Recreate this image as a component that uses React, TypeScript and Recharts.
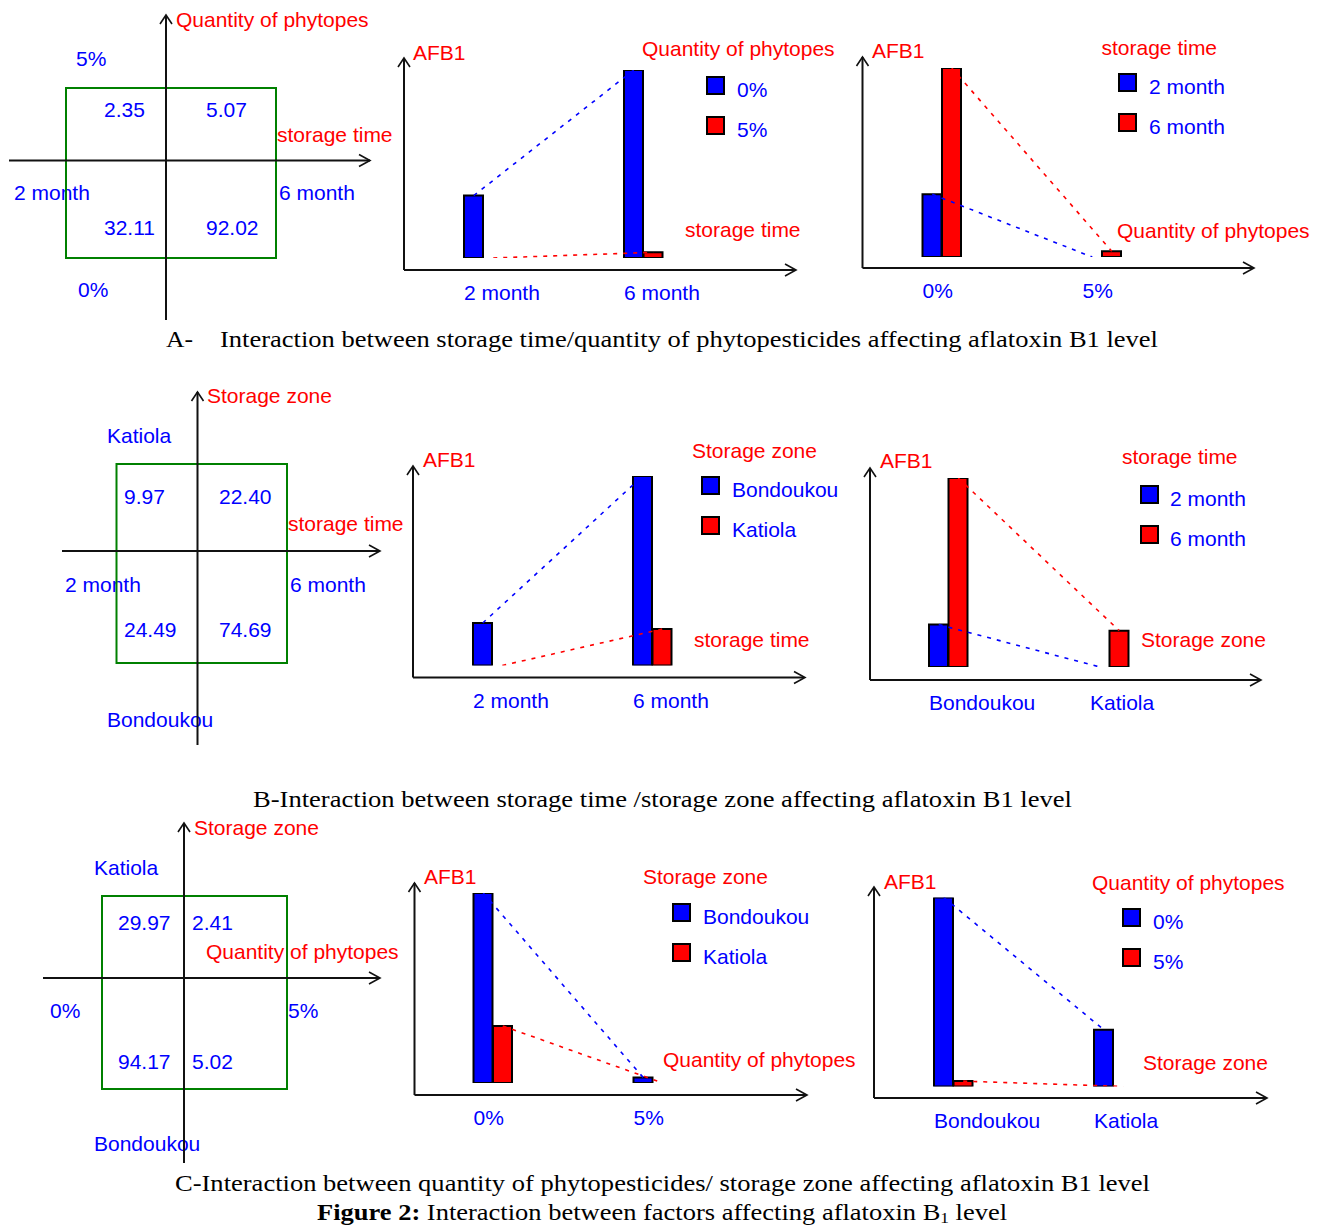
import React from 'react';
import {
  ComposedChart,
  ScatterChart,
  Scatter,
  Bar,
  Line,
  XAxis,
  YAxis,
  Cell,
  Customized,
} from 'recharts';

// ---------------- data ----------------
const storageTimes = ['2 month', '6 month'];
const phytoQuantities = ['0%', '5%'];
const storageZones = ['Bondoukou', 'Katiola'];

// A: storage time x quantity of phytopesticides (AFB1), indexed by storage time
const aPhyto0 = [32.11, 92.02];
const aPhyto5 = [2.35, 5.07];
// B: storage time x storage zone, indexed by storage time
const bBondoukou = [24.49, 74.69];
const bKatiola = [9.97, 22.4];
// C: quantity of phytopesticides x storage zone, indexed by quantity
const cBondoukou = [94.17, 5.02];
const cKatiola = [29.97, 2.41];

const titlePhyto = 'Quantity of phytopes';
const titleTime = 'storage time';
const titleZone = 'Storage zone';
const yTitle = 'AFB1';

const captionA1 = 'A-';
const captionA2 = 'Interaction between storage time/quantity of phytopesticides affecting aflatoxin B1 level';
const captionB = 'B-Interaction between storage time /storage zone affecting aflatoxin B1 level';
const captionC = 'C-Interaction between quantity of phytopesticides/ storage zone affecting aflatoxin B1 level';

// ---------------- styles ----------------
const PAGE_W = 1324;
const PAGE_H = 1227;
const BLUE = '#0000ff';
const RED = '#ff0000';
const GREEN = '#008000';
const AXIS = '#111111';
const SERIES_COLORS = [BLUE, RED];
const SANS = '"Liberation Sans", Arial, sans-serif';
const SERIF = '"Liberation Serif", "Times New Roman", serif';
const FS = 21;
const BAR_STEP = 19.5;

type SeriesDef = { name: string; values: number[] };

const transpose = (a: number[], b: number[]) => [
  [a[0], b[0]],
  [a[1], b[1]],
];

const UpArrow = ({ x, y }: { x: number; y: number }) => (
  <polyline points={`${x - 6},${y + 9} ${x},${y} ${x + 6},${y + 9}`} fill="none" stroke={AXIS} strokeWidth={1.6} />
);
const RightArrow = ({ x, y }: { x: number; y: number }) => (
  <polyline points={`${x - 11},${y - 6} ${x},${y} ${x - 11},${y + 6}`} fill="none" stroke={AXIS} strokeWidth={1.6} />
);

const T = (p: { x: number; y: number; color: string; children: React.ReactNode }) => (
  <text x={p.x} y={p.y} fill={p.color} fontSize={FS} fontFamily={SANS}>
    {p.children}
  </text>
);

// ---------------- bar panels ----------------
type BarLayout = {
  l: number; t: number; r: number; b: number;
  padTop: number; padBottom: number;
  c0: number; step: number;
  afb: [number, number];
  legendTitle: [number, number];
  box: [number, number];
  textX: number;
  xTitle: [number, number];
};

function BarOverlay({ L, series, legendTitle, xTitle }: { L: BarLayout; series: SeriesDef[]; legendTitle: string; xTitle: string }) {
  return (
    <g>
      <line x1={L.l} y1={L.t} x2={L.l} y2={L.b} stroke={AXIS} strokeWidth={2} />
      <UpArrow x={L.l} y={L.t} />
      <RightArrow x={L.r + 1} y={L.b} />
      <T x={L.afb[0]} y={L.afb[1]} color={RED}>{yTitle}</T>
      <T x={L.legendTitle[0]} y={L.legendTitle[1]} color={RED}>{legendTitle}</T>
      {series.map((s, k) => (
        <g key={k}>
          <rect x={L.box[0] + 1} y={L.box[1] + 1 + k * 40} width={17} height={17} fill={SERIES_COLORS[k]} stroke="#000" strokeWidth={2} />
          <T x={L.textX} y={L.box[1] + 20.5 + k * 40} color={BLUE}>{s.name}</T>
        </g>
      ))}
      <T x={L.xTitle[0]} y={L.xTitle[1]} color={RED}>{xTitle}</T>
    </g>
  );
}

function BarPanel({ categories, series, legendTitle, xTitle, L }: { categories: string[]; series: SeriesDef[]; legendTitle: string; xTitle: string; L: BarLayout }) {
  const delta = BAR_STEP / 2 / L.step;
  const rows: any[] = [];
  categories.forEach((c, i) => {
    series.forEach((s, k) => {
      const row: any = { cat: c, k, pos: i + (k === 0 ? -delta : delta), v: s.values[i] };
      row['s' + k] = s.values[i];
      rows.push(row);
    });
  });
  const all = series.flatMap((s) => s.values);
  const yMin = Math.min(...all);
  const yMax = Math.max(...all);
  const lo = (L.l - L.c0) / L.step;
  const hi = (L.r - L.c0) / L.step;
  const tick = (p: any) => (
    <text x={p.x - BAR_STEP} y={L.b + 30} fill={BLUE} fontSize={FS} fontFamily={SANS}>
      {categories[Math.round(p.payload.value)]}
    </text>
  );
  return (
    <div style={{ position: 'absolute', left: 0, top: 0, width: PAGE_W, height: PAGE_H }}>
      <ComposedChart
        width={PAGE_W}
        height={PAGE_H}
        data={rows}
        margin={{ top: L.t, left: L.l, right: PAGE_W - L.r, bottom: PAGE_H - L.b - 40 }}
        barGap={0}
        barCategoryGap={0}
      >
        <XAxis
          type="number"
          dataKey="pos"
          domain={[lo, hi]}
          allowDataOverflow
          ticks={categories.map((_, i) => i)}
          interval={0}
          tick={tick}
          tickLine={false}
          axisLine={{ stroke: AXIS, strokeWidth: 2 }}
          height={40}
        />
        <YAxis
          type="number"
          domain={[yMin, yMax]}
          allowDataOverflow
          width={0}
          tick={false}
          tickLine={false}
          axisLine={false}
          padding={{ top: L.padTop, bottom: L.padBottom }}
        />
        <Bar dataKey="v" barSize={19} stroke="#000" strokeWidth={2} isAnimationActive={false}>
          {rows.map((r, i) => (
            <Cell key={i} fill={SERIES_COLORS[r.k]} />
          ))}
        </Bar>
        {series.map((s, k) => (
          <Line
            key={s.name}
            type="linear"
            dataKey={'s' + k}
            stroke={SERIES_COLORS[k]}
            strokeWidth={1.6}
            strokeDasharray="4 6"
            dot={false}
            activeDot={false}
            connectNulls
            isAnimationActive={false}
          />
        ))}
        <Customized component={<BarOverlay L={L} series={series} legendTitle={legendTitle} xTitle={xTitle} />} />
      </ComposedChart>
    </div>
  );
}

// ---------------- quadrant panels ----------------
type QuadLayout = {
  vx: number; vTop: number; vBottom: number;
  hy: number; hLeft: number; hRight: number;
  box: [number, number, number, number];
  colX: [number, number];
  rowY: [number, number];
  labels: { text: string; x: number; y: number; color: string }[];
};

function QuadOverlay({ Q }: { Q: QuadLayout }) {
  const [x1, y1, x2, y2] = Q.box;
  return (
    <g>
      {Q.labels.map((lb, i) => (
        <T key={i} x={lb.x} y={lb.y} color={lb.color}>{lb.text}</T>
      ))}
      <rect x={x1} y={y1} width={x2 - x1} height={y2 - y1} fill="none" stroke={GREEN} strokeWidth={2} />
      <line x1={Q.vx} y1={Q.vTop} x2={Q.vx} y2={Q.vBottom} stroke={AXIS} strokeWidth={2} />
      <line x1={Q.hLeft} y1={Q.hy} x2={Q.hRight} y2={Q.hy} stroke={AXIS} strokeWidth={2} />
      <UpArrow x={Q.vx} y={Q.vTop} />
      <RightArrow x={Q.hRight} y={Q.hy} />
    </g>
  );
}

const ValueText = (p: any) => (
  <text x={p.cx} y={p.cy} fill={BLUE} fontSize={FS} fontFamily={SANS}>
    {Number(p.payload.v).toFixed(2)}
  </text>
);

function QuadPanel({ cols, rows, values, Q }: { cols: string[]; rows: string[]; values: number[][]; Q: QuadLayout }) {
  const cells = rows.flatMap((r, ri) => cols.map((c, ci) => ({ col: c, row: r, v: values[ri][ci] })));
  return (
    <div style={{ position: 'absolute', left: 0, top: 0 }}>
      <ScatterChart
        width={PAGE_W}
        height={PAGE_H}
        margin={{ left: Q.colX[0], right: PAGE_W - Q.colX[1], top: Q.rowY[0], bottom: PAGE_H - Q.rowY[1] }}
      >
        <XAxis type="category" dataKey="col" scale="point" allowDuplicatedCategory={false} hide />
        <YAxis type="category" dataKey="row" scale="point" allowDuplicatedCategory={false} reversed hide />
        <Scatter data={cells} shape={ValueText} isAnimationActive={false} />
        <Customized component={<QuadOverlay Q={Q} />} />
      </ScatterChart>
    </div>
  );
}

// ---------------- layouts ----------------
const QA: QuadLayout = {
  vx: 166, vTop: 15, vBottom: 320, hy: 160.5, hLeft: 9, hRight: 370,
  box: [66, 88, 276, 258], colX: [104, 206], rowY: [117, 235],
  labels: [
    { text: titlePhyto, x: 176, y: 27, color: RED },
    { text: phytoQuantities[1], x: 76, y: 66, color: BLUE },
    { text: titleTime, x: 277, y: 142, color: RED },
    { text: storageTimes[0], x: 14, y: 200, color: BLUE },
    { text: storageTimes[1], x: 279, y: 200, color: BLUE },
    { text: phytoQuantities[0], x: 78, y: 297, color: BLUE },
  ],
};
const QB: QuadLayout = {
  vx: 197.5, vTop: 392, vBottom: 745, hy: 551, hLeft: 62, hRight: 380,
  box: [116.5, 464, 287, 663], colX: [124, 219], rowY: [504, 637],
  labels: [
    { text: titleZone, x: 207, y: 403, color: RED },
    { text: storageZones[1], x: 107, y: 443, color: BLUE },
    { text: titleTime, x: 288, y: 531, color: RED },
    { text: storageTimes[0], x: 65, y: 592, color: BLUE },
    { text: storageTimes[1], x: 290, y: 592, color: BLUE },
    { text: storageZones[0], x: 107, y: 727, color: BLUE },
  ],
};
const QC: QuadLayout = {
  vx: 184, vTop: 823, vBottom: 1163, hy: 978, hLeft: 43, hRight: 380,
  box: [102, 896, 287, 1089], colX: [118, 192], rowY: [930, 1069],
  labels: [
    { text: titleZone, x: 194, y: 835, color: RED },
    { text: storageZones[1], x: 94, y: 875, color: BLUE },
    { text: titlePhyto, x: 206, y: 959, color: RED },
    { text: phytoQuantities[0], x: 50, y: 1018, color: BLUE },
    { text: phytoQuantities[1], x: 288, y: 1018, color: BLUE },
    { text: storageZones[0], x: 94, y: 1151, color: BLUE },
  ],
};

const LA1: BarLayout = { l: 404, t: 58, r: 795, b: 270, padTop: 12, padBottom: 12, c0: 483.5, step: 160, afb: [413, 60], legendTitle: [642, 56], box: [706, 76], textX: 737, xTitle: [685, 237] };
const LA2: BarLayout = { l: 862.5, t: 57, r: 1253, b: 268, padTop: 11, padBottom: 11, c0: 942, step: 160, afb: [872, 58], legendTitle: [1101.5, 55], box: [1118, 73], textX: 1149, xTitle: [1117, 238] };
const LB1: BarLayout = { l: 413, t: 466, r: 804, b: 677.5, padTop: 10, padBottom: 12, c0: 492.5, step: 160, afb: [423, 467], legendTitle: [692, 458], box: [701, 476], textX: 732, xTitle: [694, 647] };
const LB2: BarLayout = { l: 870, t: 468, r: 1260, b: 680, padTop: 10, padBottom: 13, c0: 948.5, step: 161, afb: [880, 468], legendTitle: [1122, 464], box: [1140, 485], textX: 1170, xTitle: [1141, 647] };
const LC1: BarLayout = { l: 414.5, t: 883, r: 806, b: 1095, padTop: 10, padBottom: 12, c0: 493, step: 160, afb: [424, 884], legendTitle: [643, 884], box: [672, 903], textX: 703, xTitle: [663, 1067] };
const LC2: BarLayout = { l: 874, t: 887, r: 1266, b: 1098, padTop: 10.5, padBottom: 11.5, c0: 953.5, step: 160, afb: [884, 889], legendTitle: [1092, 890], box: [1122, 908], textX: 1153, xTitle: [1143, 1070] };

// ---------------- series ----------------
const seriesA1: SeriesDef[] = [
  { name: phytoQuantities[0], values: aPhyto0 },
  { name: phytoQuantities[1], values: aPhyto5 },
];
const aT = transpose(aPhyto0, aPhyto5);
const seriesA2: SeriesDef[] = [
  { name: storageTimes[0], values: aT[0] },
  { name: storageTimes[1], values: aT[1] },
];
const seriesB1: SeriesDef[] = [
  { name: storageZones[0], values: bBondoukou },
  { name: storageZones[1], values: bKatiola },
];
const bT = transpose(bBondoukou, bKatiola);
const seriesB2: SeriesDef[] = [
  { name: storageTimes[0], values: bT[0] },
  { name: storageTimes[1], values: bT[1] },
];
const seriesC1: SeriesDef[] = [
  { name: storageZones[0], values: cBondoukou },
  { name: storageZones[1], values: cKatiola },
];
const cT = transpose(cBondoukou, cKatiola);
const seriesC2: SeriesDef[] = [
  { name: phytoQuantities[0], values: cT[0] },
  { name: phytoQuantities[1], values: cT[1] },
];

function Captions() {
  const common = { fontFamily: SERIF, fontSize: 23, fill: '#000' } as const;
  return (
    <svg width={PAGE_W} height={PAGE_H} style={{ position: 'absolute', left: 0, top: 0 }}>
      <text x={166} y={347} {...common} textLength={27} lengthAdjust="spacingAndGlyphs">{captionA1}</text>
      <text x={220} y={347} {...common} textLength={938} lengthAdjust="spacingAndGlyphs">{captionA2}</text>
      <text x={253} y={807} {...common} textLength={819} lengthAdjust="spacingAndGlyphs">{captionB}</text>
      <text x={175} y={1191} {...common} textLength={975} lengthAdjust="spacingAndGlyphs">{captionC}</text>
      <text transform="translate(317,1220) scale(1.152,1)" {...common}>
        <tspan fontWeight="bold">Figure 2:</tspan>
        <tspan>{' Interaction between factors affecting aflatoxin B'}</tspan>
        <tspan fontSize={15} dy={3}>1</tspan>
        <tspan dy={-3}>{' level'}</tspan>
      </text>
    </svg>
  );
}

export default function App() {
  return (
    <div style={{ position: 'absolute', left: 0, top: 0, width: PAGE_W, height: PAGE_H, background: '#fff', overflow: 'hidden' }}>
      <Captions />
      <QuadPanel cols={storageTimes} rows={[phytoQuantities[1], phytoQuantities[0]]} values={[aPhyto5, aPhyto0]} Q={QA} />
      <QuadPanel cols={storageTimes} rows={[storageZones[1], storageZones[0]]} values={[bKatiola, bBondoukou]} Q={QB} />
      <QuadPanel cols={phytoQuantities} rows={[storageZones[1], storageZones[0]]} values={[cKatiola, cBondoukou]} Q={QC} />
      <BarPanel categories={storageTimes} series={seriesA1} legendTitle={titlePhyto} xTitle={titleTime} L={LA1} />
      <BarPanel categories={phytoQuantities} series={seriesA2} legendTitle={titleTime} xTitle={titlePhyto} L={LA2} />
      <BarPanel categories={storageTimes} series={seriesB1} legendTitle={titleZone} xTitle={titleTime} L={LB1} />
      <BarPanel categories={storageZones} series={seriesB2} legendTitle={titleTime} xTitle={titleZone} L={LB2} />
      <BarPanel categories={phytoQuantities} series={seriesC1} legendTitle={titleZone} xTitle={titlePhyto} L={LC1} />
      <BarPanel categories={storageZones} series={seriesC2} legendTitle={titlePhyto} xTitle={titleZone} L={LC2} />
    </div>
  );
}
